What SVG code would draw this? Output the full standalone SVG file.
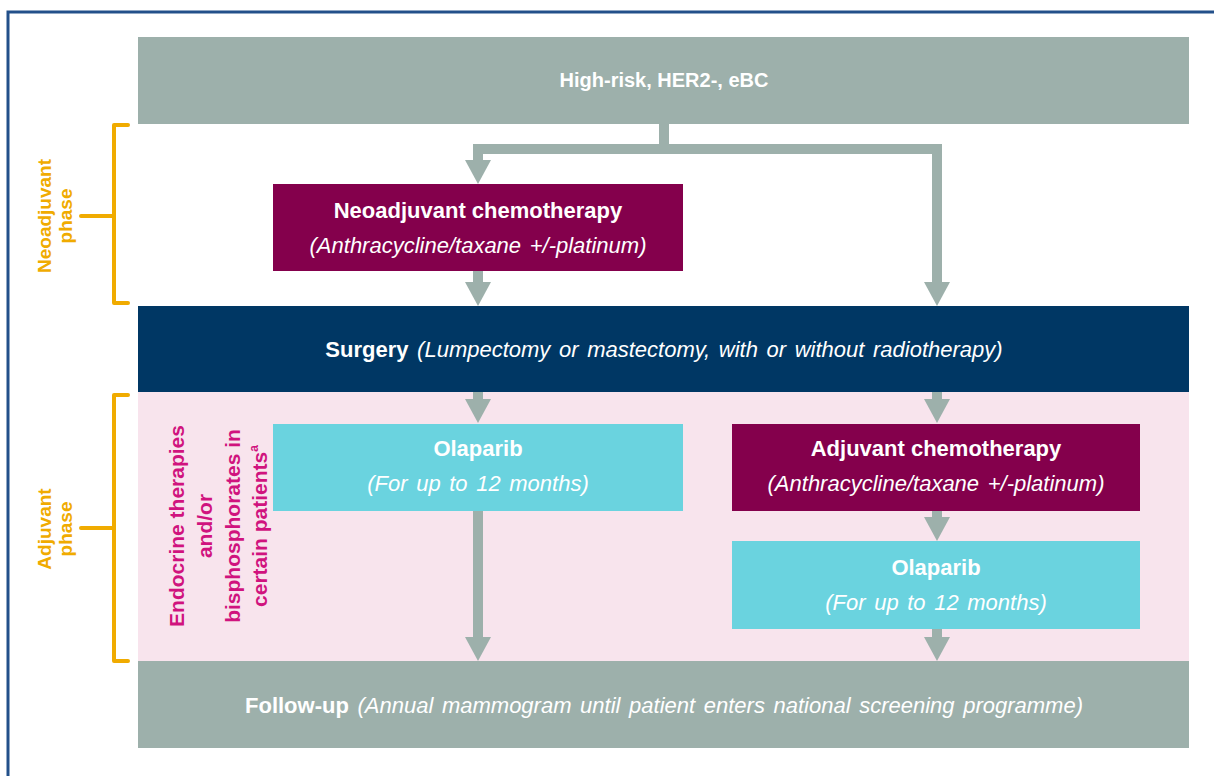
<svg xmlns="http://www.w3.org/2000/svg" width="1214" height="776" viewBox="0 0 1214 776">
<style>
text{font-family:"Liberation Sans",Arial,sans-serif;}
.t{fill:#ffffff;font-size:22px;text-anchor:middle;}
.s{font-size:20px;}
.b{font-weight:bold;}
.i{font-style:italic;word-spacing:2.5px;}
.ph{fill:#f0ab00;font-size:19px;font-weight:bold;text-anchor:middle;}
.mg{fill:#d0137e;font-size:21px;font-weight:bold;text-anchor:middle;}
.br{fill:none;stroke:#f0ab00;stroke-width:4;stroke-linejoin:round;stroke-linecap:round;}
.c{fill:none;stroke:#9db0ab;stroke-width:10;marker-end:url(#ah);}
</style>
<defs>
<marker id="ah" markerUnits="userSpaceOnUse" markerWidth="24" markerHeight="26" viewBox="0 0 24 26" refX="0" refY="13" orient="auto">
<path d="M0,0 L24,13 L0,26 z" fill="#9db0ab"/>
</marker>
</defs>
<rect x="0" y="0" width="1214" height="776" fill="#ffffff"/>
<rect x="8" y="12" width="1230" height="800" fill="none" stroke="#23508a" stroke-width="3"/>

<g id="adjuvant-band"><rect x="138" y="392" width="1051" height="269" fill="#f8e4ed"/></g>

<g id="neoadjuvant-phase">
<path class="br" d="M128,125 H114 V303 H128 M114,216 H81"/>
<text class="ph" transform="rotate(-90)"><tspan x="-216" y="51">Neoadjuvant</tspan><tspan x="-216" y="72">phase</tspan></text>
</g>
<g id="adjuvant-phase">
<path class="br" d="M128,395 H114 V661 H128 M114,528 H81"/>
<text class="ph" transform="rotate(-90)"><tspan x="-529" y="51">Adjuvant</tspan><tspan x="-529" y="72">phase</tspan></text>
</g>
<g id="endocrine">
<text class="mg" transform="rotate(-90)"><tspan x="-526" y="184">Endocrine therapies</tspan><tspan x="-526" y="212">and/or</tspan><tspan x="-526" y="240">bisphosphorates in</tspan><tspan x="-526" y="267">certain patients<tspan font-size="12" dy="-9">a</tspan></tspan></text>
</g>

<g id="connectors">
<path class="c" d="M664,124 V149 H478 V160"/>
<path class="c" d="M664,149 H937 V282"/>
<path class="c" d="M478,271 V282"/>
<path class="c" d="M478,392 V399"/>
<path class="c" d="M937,392 V399"/>
<path class="c" d="M478,511 V637"/>
<path class="c" d="M937,511 V517"/>
<path class="c" d="M937,629 V637"/>
</g>

<g id="high-risk">
<rect x="138" y="37" width="1051" height="87" fill="#9db0ab"/>
<text class="t b s" x="664" y="87">High-risk, HER2-, eBC</text>
</g>
<g id="neoadjuvant-chemo">
<rect x="273" y="184" width="410" height="87" fill="#84004c"/>
<text class="t b" x="478" y="218">Neoadjuvant chemotherapy</text>
<text class="t i" x="478" y="253">(Anthracycline/taxane +/-platinum)</text>
</g>
<g id="surgery">
<rect x="138" y="306" width="1051" height="86" fill="#003764"/>
<text class="t" x="664" y="357"><tspan class="b">Surgery</tspan><tspan class="i"> (Lumpectomy or mastectomy, with or without radiotherapy)</tspan></text>
</g>
<g id="olaparib-left">
<rect x="273" y="424" width="410" height="87" fill="#6ad3df"/>
<text class="t b" x="478" y="456">Olaparib</text>
<text class="t i" x="478" y="491">(For up to 12 months)</text>
</g>
<g id="adjuvant-chemo">
<rect x="732" y="424" width="408" height="87" fill="#84004c"/>
<text class="t b" x="936" y="456">Adjuvant chemotherapy</text>
<text class="t i" x="936" y="491">(Anthracycline/taxane +/-platinum)</text>
</g>
<g id="olaparib-right">
<rect x="732" y="541" width="408" height="88" fill="#6ad3df"/>
<text class="t b" x="936" y="575">Olaparib</text>
<text class="t i" x="936" y="610">(For up to 12 months)</text>
</g>
<g id="follow-up">
<rect x="138" y="661" width="1051" height="87" fill="#9db0ab"/>
<text class="t" x="664" y="713"><tspan class="b">Follow-up</tspan><tspan class="i"> (Annual mammogram until patient enters national screening programme)</tspan></text>
</g>
</svg>
